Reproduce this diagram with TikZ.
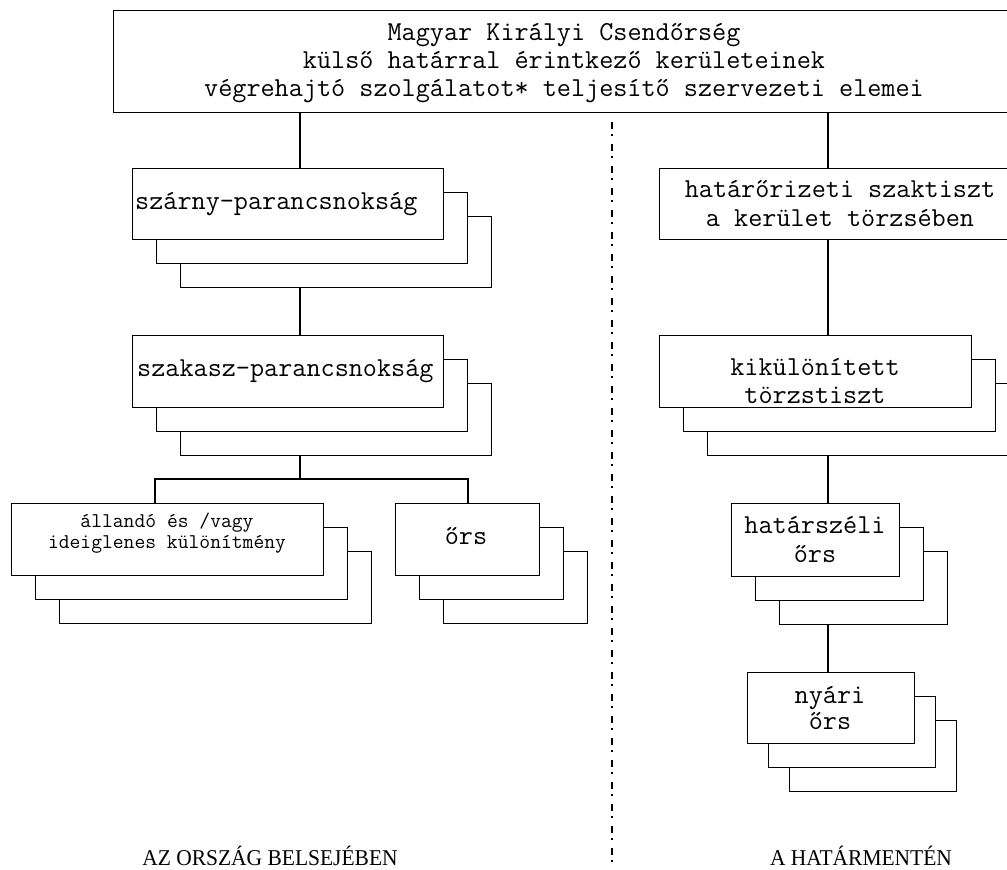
\documentclass[tikz,border=0pt]{standalone}
\usepackage{fontspec}
\usepackage{graphicx}
\setmainfont{Liberation Serif}
\tikzset{
  box/.style={draw, fill=white, inner sep=0pt, line width=1.4pt},
  conn/.style={line width=1.4pt},
  txt/.style={font=\ttfamily\fontsize{27.4}{32}\selectfont, inner sep=0pt, anchor=base},
  txtl/.style={font=\ttfamily\fontsize{27.4}{32}\selectfont, inner sep=0pt, anchor=base west},
  txts/.style={font=\ttfamily\fontsize{21}{25}\selectfont, inner sep=0pt, anchor=base},
  lbl/.style={font=\fontsize{22.6}{26}\selectfont, inner sep=0pt, anchor=base},
  divider/.style={line width=1.7pt, dash pattern=on 7pt off 5pt on 2pt off 8pt}
}
% name, x, y, w, h, dx, dy
\newcommand\stk[7]{%
  \node[box, minimum width=#4pt, minimum height=#5pt, anchor=north west] (#13) at ({#2+2*#6},{#3+2*#7}) {};
  \node[box, minimum width=#4pt, minimum height=#5pt, anchor=north west] (#12) at ({#2+#6},{#3+#7}) {};
  \node[box, minimum width=#4pt, minimum height=#5pt, anchor=north west] (#1) at (#2,#3) {};
}
\begin{document}
\begin{tikzpicture}[x=1pt,y=-1pt]
\clip (0,0) rectangle (1007,870);
\fill[white] (0,0) rectangle (1007,870);

% top box
\node[box, minimum width=902pt, minimum height=102pt, anchor=north west] (top) at (113,10) {};
\node[txt] (t1) at (564,40) {Magyar Királyi Csendőrség};
\node[txt] (t2) at (564,68) {külső határral érintkező kerületeinek};
\node[txt] (t3) at (564,96) {végrehajtó szolgálatot* teljesítő szervezeti elemei};

% connector x positions
\coordinate (xl) at (300,0);
\coordinate (xr) at (828,0);
\coordinate (brM) at (300,479);
\coordinate (brL) at (155,479);
\coordinate (brR) at (468,479);

% left column
\stk{szarny}{132}{168}{311}{71}{24}{24}
\node[txtl] (szarnyt) at (135,209) {szárny-parancsnokság};
\stk{szakasz}{132}{335}{311}{72}{24}{24}
\node[txtl] (szakaszt) at (137,376) {szakasz-parancsnokság};
\stk{allando}{11}{503}{312}{72}{24}{24}
\node[txts] (allandot1) at (167,527) {állandó és /vagy};
\node[txts] (allandot2) at (167,548) {ideiglenes különítmény};
\stk{ors}{395}{503}{144}{72}{24}{24}
\node[txt] (orst) at (466,544) {őrs};

\draw[conn] (top.south -| xl) -- (szarny.north -| xl);
\draw[conn] (szarny3.south -| xl) -- (szakasz.north -| xl);
\draw[conn] (szakasz3.south -| brM) -- (brM);
\draw[conn] (allando.north -| brL) -- (brL) -- (brR) -- (ors.north -| brR);

% right column
\node[box, minimum width=362pt, minimum height=71pt, anchor=north west] (hatar) at (659,168) {};
\node[txt] (hatart1) at (840,197) {határőrizeti szaktiszt};
\node[txt] (hatart2) at (840,226) {a kerület törzsében};
\stk{kik}{659}{335}{312}{72}{24}{24}
\node[txt] (kikt1) at (815,375) {kikülönített};
\node[txt] (kikt2) at (815,403) {törzstiszt};
\stk{hsz}{731}{503}{168}{73}{24}{24}
\node[txt] (hszt1) at (815,533) {határszéli};
\node[txt] (hszt2) at (815,562) {őrs};
\stk{nyari}{747}{672}{167}{71}{21}{24}
\node[txt] (nyarit1) at (830,703) {nyári};
\node[txt] (nyarit2) at (830,729) {őrs};

\draw[conn] (top.south -| xr) -- (hatar.north -| xr);
\draw[conn] (hatar.south -| xr) -- (kik.north -| xr);
\draw[conn] (kik3.south -| xr) -- (hsz.north -| xr);
\draw[conn] (hsz3.south -| xr) -- (nyari.north -| xr);

% divider
\coordinate (d1) at (612,122);
\coordinate (d2) at (612,862);
\draw[divider] (d1) -- (d2);

% labels
\node[lbl] (lab1) at (270,865) {\scalebox{0.95}[1]{AZ ORSZÁG BELSEJÉBEN}};
\node[lbl] (lab2) at (861,865) {\scalebox{0.95}[1]{A HATÁRMENTÉN}};
\end{tikzpicture}
\end{document}
